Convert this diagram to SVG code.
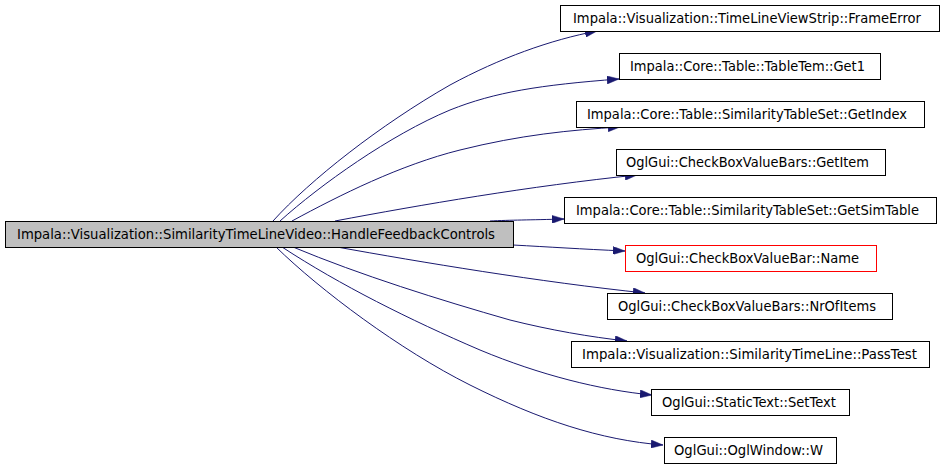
<svg xmlns="http://www.w3.org/2000/svg" width="943" height="466" viewBox="0 0 943 466">
<style>
.box{fill:#ffffff;stroke:#000000;stroke-width:1}
.main{fill:#bfbfbf;stroke:#000000;stroke-width:1}
.red{fill:#ffffff;stroke:#ff0000;stroke-width:1}
text{font-family:"DejaVu Sans","Liberation Sans",sans-serif;font-size:13.3px;fill:#000000}
.edge{fill:none;stroke:#191970;stroke-width:1;marker-end:url(#arr)}
</style>
<defs>
<marker id="arr" markerUnits="userSpaceOnUse" markerWidth="12" markerHeight="8" refX="12" refY="4" orient="auto">
<path d="M0,0 L12,4 L0,8 z" fill="#191970" stroke="#191970" stroke-width="0.5"/>
</marker>
</defs>
<rect width="943" height="466" fill="#ffffff"/>
<g id="connectors">
<path class="edge" d="M273,221 C310,180 380,125 450,85 C500,58 550,40 597,31"/>
<path class="edge" d="M280,221 C320,185 390,135 450,110 C495,92 540,85 619,79"/>
<path class="edge" d="M292,221 C340,195 400,165 460,150 C520,135 570,130 620,127"/>
<path class="edge" d="M335,221 C420,205 530,186 637,175"/>
<path class="edge" d="M490,221 C510,220 530,220 564,219"/>
<path class="edge" d="M513,245 C550,247 580,249 625,251"/>
<path class="edge" d="M337,247 C420,262 540,282 645,293"/>
<path class="edge" d="M293,247 C360,275 440,300 510,320 C550,330 590,337 627,341"/>
<path class="edge" d="M282,247 C340,285 410,320 480,350 C540,375 600,390 652,395"/>
<path class="edge" d="M276,247 C320,290 400,350 470,385 C540,420 600,440 663,445"/>
</g>
<g id="node-main">
<rect class="main" x="5.5" y="221.5" width="508" height="26"/>
<text x="17" y="239" textLength="478" lengthAdjust="spacingAndGlyphs">Impala::Visualization::SimilarityTimeLineVideo::HandleFeedbackControls</text>
</g>
<g id="node-frameerror">
<rect class="box" x="560.5" y="5.5" width="379" height="26"/>
<text x="573" y="23" textLength="348" lengthAdjust="spacingAndGlyphs">Impala::Visualization::TimeLineViewStrip::FrameError</text>
</g>
<g id="node-get1">
<rect class="box" x="619.5" y="53.5" width="261" height="26"/>
<text x="630" y="71" textLength="235" lengthAdjust="spacingAndGlyphs">Impala::Core::Table::TableTem::Get1</text>
</g>
<g id="node-getindex">
<rect class="box" x="576.5" y="101.5" width="348" height="26"/>
<text x="587" y="119" textLength="320" lengthAdjust="spacingAndGlyphs">Impala::Core::Table::SimilarityTableSet::GetIndex</text>
</g>
<g id="node-getitem">
<rect class="box" x="616.5" y="149.5" width="269" height="26"/>
<text x="626" y="167" textLength="243" lengthAdjust="spacingAndGlyphs">OglGui::CheckBoxValueBars::GetItem</text>
</g>
<g id="node-getsimtable">
<rect class="box" x="564.5" y="197.5" width="372" height="26"/>
<text x="576" y="215" textLength="343" lengthAdjust="spacingAndGlyphs">Impala::Core::Table::SimilarityTableSet::GetSimTable</text>
</g>
<g id="node-name">
<rect class="red" x="625.5" y="245.5" width="251" height="26"/>
<text x="636" y="263" textLength="223" lengthAdjust="spacingAndGlyphs">OglGui::CheckBoxValueBar::Name</text>
</g>
<g id="node-nrofitems">
<rect class="box" x="607.5" y="293.5" width="285" height="26"/>
<text x="618" y="311" textLength="258" lengthAdjust="spacingAndGlyphs">OglGui::CheckBoxValueBars::NrOfItems</text>
</g>
<g id="node-passtest">
<rect class="box" x="571.5" y="341.5" width="358" height="26"/>
<text x="582" y="359" textLength="335" lengthAdjust="spacingAndGlyphs">Impala::Visualization::SimilarityTimeLine::PassTest</text>
</g>
<g id="node-settext">
<rect class="box" x="651.5" y="389.5" width="198" height="26"/>
<text x="662" y="407" textLength="174" lengthAdjust="spacingAndGlyphs">OglGui::StaticText::SetText</text>
</g>
<g id="node-w">
<rect class="box" x="664.5" y="437.5" width="172" height="26"/>
<text x="674" y="455" textLength="149" lengthAdjust="spacingAndGlyphs">OglGui::OglWindow::W</text>
</g>
</svg>
